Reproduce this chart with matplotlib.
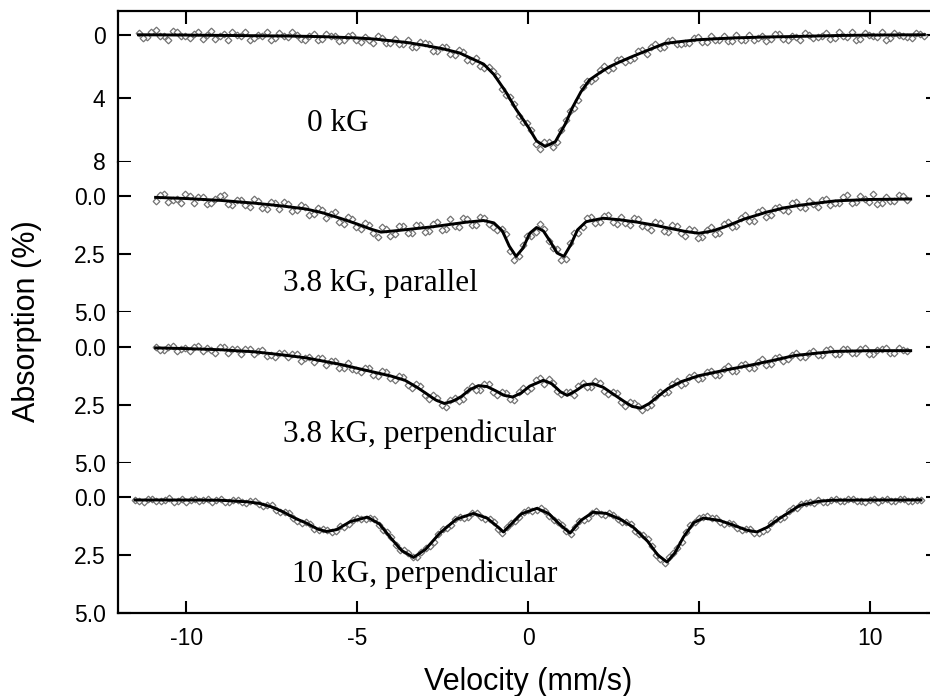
import matplotlib.pyplot as plt
import numpy as np

# velocity channels of the measured points (mm/s), two interleaved sets
vel_0kg = np.linspace(-11.4, 11.6, 93)
vel_0kg_b = np.linspace(-11.275, 11.475, 92)
vel_38par = np.linspace(-10.9, 11.1, 89)
vel_38par_b = np.linspace(-10.775, 10.975, 88)
vel_38perp = np.linspace(-10.9, 11.1, 89)
vel_38perp_b = np.linspace(-10.775, 10.975, 88)
vel_10kg = np.linspace(-11.5, 11.5, 93)
vel_10kg_b = np.linspace(-11.375, 11.375, 92)

abs_0kg = [-0.1, 0.15, -0.3, 0.1, -0.25, 0.05, 0.2, -0.15, 0.0, 0.25,
           -0.05, -0.2, 0.1, 0.3, 0.0, -0.15, 0.2, 0.05, -0.2, 0.25,
           0.1, 0.3, -0.05, 0.05, 0.35, 0.0, 0.45, 0.3, 0.1, 0.5,
           0.25, 0.6, 0.75, 0.45, 0.6, 1.0, 0.8, 1.25, 1.1, 1.65,
           1.95, 2.05, 2.6, 3.8, 4.4, 5.5, 6.0, 7.2, 6.8, 6.75,
           5.4, 4.6, 3.3, 2.95, 2.25, 2.2, 1.6, 1.75, 1.45, 0.95,
           0.75, 0.85, 0.4, 0.6, 0.55, 0.2, 0.45, 0.1, 0.35, 0.4,
           0.0, 0.3, 0.35, 0.05, 0.25, -0.05, 0.3, 0.15, -0.1, 0.2,
           0.05, 0.25, -0.15, 0.15, 0.3, -0.1, 0.1, -0.2, 0.2, 0.0,
           0.15, -0.1, 0.05]
abs_0kg_b = [0.2, -0.15, 0.05, 0.3, -0.2, 0.1, -0.05, 0.25, -0.25, 0.1,
             0.3, 0.0, -0.15, 0.2, 0.1, 0.35, -0.1, 0.15, 0.0, 0.3,
             -0.05, 0.25, 0.1, 0.4, 0.05, 0.3, 0.15, 0.5, 0.2, 0.55,
             0.6, 0.35, 0.8, 0.5, 1.0, 0.75, 1.2, 0.95, 1.6, 1.45,
             2.1, 2.3, 3.4, 3.9, 5.1, 5.6, 6.9, 6.8, 7.1, 6.0,
             4.8, 4.1, 2.9, 2.75, 2.0, 2.1, 1.5, 1.6, 1.05, 1.2,
             0.6, 0.8, 0.3, 0.6, 0.5, 0.15, 0.45, 0.35, 0.05, 0.4,
             0.3, 0.0, 0.2, 0.4, -0.05, 0.25, 0.1, 0.35, 0.0, 0.15,
             -0.1, 0.2, 0.1, -0.2, 0.25, 0.0, 0.15, 0.3, -0.1, 0.1,
             0.2, -0.05]
abs_38par = [0.2, -0.1, 0.15, 0.3, 0.0, 0.05, 0.35, 0.1, -0.05, 0.4,
             0.15, 0.45, 0.2, 0.55, 0.3, 0.25, 0.65, 0.4, 0.8, 0.5,
             0.95, 0.7, 1.2, 1.0, 1.4, 1.25, 1.75, 1.4, 1.65, 1.3,
             1.6, 1.25, 1.5, 1.1, 1.4, 1.3, 0.95, 1.25, 0.9, 1.2,
             1.45, 1.65, 2.75, 2.1, 1.7, 1.2, 1.95, 2.3, 2.7, 1.6,
             1.35, 0.9, 1.1, 0.8, 1.2, 1.15, 0.95, 1.3, 1.45, 1.15,
             1.55, 1.3, 1.7, 1.45, 1.75, 1.35, 1.6, 1.1, 1.3, 0.8,
             1.05, 0.6, 0.8, 0.45, 0.65, 0.25, 0.5, 0.35, 0.15, 0.4,
             0.3, -0.05, 0.25, 0.1, -0.1, 0.3, 0.2, -0.05, 0.15]
abs_38par_b = [-0.05, 0.25, 0.1, -0.1, 0.3, 0.05, 0.3, 0.0, 0.35, 0.15,
               0.4, 0.1, 0.5, 0.25, 0.55, 0.35, 0.6, 0.45, 0.75, 0.6,
               0.75, 1.1, 0.9, 1.35, 1.15, 1.6, 1.35, 1.7, 1.3, 1.6,
               1.25, 1.55, 1.2, 1.45, 1.0, 1.35, 1.0, 1.25, 0.95, 1.35,
               1.4, 2.35, 2.6, 1.7, 1.55, 1.4, 2.25, 2.75, 2.0, 1.6,
               0.95, 1.15, 0.85, 1.1, 0.9, 1.25, 1.0, 1.35, 1.1, 1.5,
               1.25, 1.6, 1.4, 1.8, 1.45, 1.65, 1.2, 1.35, 0.95, 1.05,
               0.7, 0.9, 0.5, 0.6, 0.3, 0.45, 0.2, 0.45, 0.1, 0.3,
               0.05, 0.3, 0.0, 0.25, 0.35, 0.05, 0.2, 0.0]
abs_38perp = [0.0, 0.15, -0.05, 0.1, 0.2, -0.05, 0.05, 0.25, 0.0, 0.1,
              0.3, 0.1, 0.2, 0.4, 0.45, 0.25, 0.3, 0.6, 0.45, 0.5,
              0.8, 0.6, 0.9, 0.95, 1.1, 0.9, 1.25, 1.1, 1.45, 1.3,
              1.8, 1.7, 2.25, 2.2, 2.6, 2.2, 2.25, 1.7, 1.85, 1.6,
              2.1, 2.0, 2.3, 1.8, 1.8, 1.35, 1.4, 1.9, 1.95, 2.1,
              1.55, 1.75, 1.55, 2.05, 2.0, 2.55, 2.45, 2.75, 2.5, 1.95,
              1.95, 1.5, 1.55, 1.2, 1.35, 1.05, 1.2, 0.85, 1.05, 0.75,
              0.9, 0.55, 0.75, 0.45, 0.55, 0.25, 0.45, 0.2, 0.35, 0.1,
              0.3, 0.1, 0.25, 0.05, 0.3, 0.1, 0.25, 0.05, 0.2]
abs_38perp_b = [0.15, 0.0, 0.2, 0.05, 0.0, 0.2, 0.15, 0.0, 0.25, 0.1,
                0.1, 0.3, 0.15, 0.35, 0.25, 0.45, 0.3, 0.5, 0.65, 0.5,
                0.6, 0.9, 0.7, 1.0, 0.9, 1.2, 1.05, 1.35, 1.25, 1.65,
                1.6, 2.1, 2.1, 2.5, 2.3, 2.35, 1.85, 1.85, 1.6, 1.95,
                1.95, 2.25, 1.95, 1.9, 1.45, 1.6, 1.55, 2.05, 1.95, 1.7,
                1.75, 1.5, 1.9, 1.95, 2.4, 2.4, 2.55, 2.6, 2.15, 2.0,
                1.6, 1.65, 1.3, 1.4, 1.1, 1.2, 0.95, 1.05, 0.8, 0.9,
                0.65, 0.8, 0.5, 0.6, 0.35, 0.45, 0.25, 0.35, 0.15, 0.3,
                0.1, 0.25, 0.1, 0.3, 0.15, 0.05, 0.25, 0.15]
abs_10kg = [0.1, 0.2, 0.08, 0.18, 0.05, 0.15, 0.2, 0.06, 0.14, 0.22,
            0.08, 0.2, 0.1, 0.25, 0.18, 0.38, 0.35, 0.65, 0.7, 1.02,
            1.05, 1.38, 1.36, 1.52, 1.25, 1.16, 0.9, 0.95, 0.96, 1.4,
            1.72, 2.3, 2.4, 2.6, 2.18, 1.92, 1.38, 1.22, 0.84, 0.85,
            0.68, 0.95, 1.08, 1.55, 1.1, 0.86, 0.55, 0.56, 0.58, 0.98,
            1.2, 1.6, 1.02, 0.88, 0.6, 0.75, 0.77, 1.06, 1.15, 1.6,
            1.82, 2.48, 2.82, 2.42, 1.95, 1.22, 0.9, 0.8, 0.9, 1.15,
            1.14, 1.4, 1.38, 1.55, 1.36, 0.96, 0.86, 0.48, 0.3, 0.2,
            0.1, 0.2, 0.08, 0.18, 0.06, 0.16, 0.1, 0.2, 0.07, 0.15,
            0.09, 0.18, 0.1]
abs_10kg_b = [0.16, 0.06, 0.15, 0.1, 0.2, 0.08, 0.14, 0.18, 0.07, 0.12,
              0.2, 0.1, 0.22, 0.15, 0.3, 0.32, 0.55, 0.62, 0.9, 1.1,
              1.15, 1.42, 1.4, 1.46, 1.28, 0.98, 0.96, 0.88, 1.2, 1.5,
              2.05, 2.28, 2.56, 2.35, 2.1, 1.58, 1.35, 0.95, 0.88, 0.66,
              0.86, 0.95, 1.36, 1.3, 1.04, 0.65, 0.6, 0.45, 0.82, 1.05,
              1.46, 1.3, 0.98, 0.68, 0.72, 0.7, 0.96, 1.05, 1.44, 1.65,
              2.1, 2.66, 2.58, 2.2, 1.5, 1.05, 0.85, 0.88, 1.08, 1.1,
              1.32, 1.36, 1.55, 1.45, 1.12, 0.95, 0.6, 0.48, 0.26, 0.26,
              0.2, 0.1, 0.17, 0.08, 0.15, 0.19, 0.07, 0.14, 0.18, 0.08,
              0.16, 0.11]

# fitted curves (nodes)
fit_v_0kg = [-11.4, -10, -9, -8, -7, -6, -5, -4.5, -4, -3.5,
             -3, -2.5, -2, -1.6, -1.3, -1.0, -0.65, -0.35, 0, 0.25,
             0.5, 0.8, 1.1, 1.3, 1.55, 1.8, 2.1, 2.4, 2.7, 3.0,
             3.5, 4.0, 4.5, 5, 6, 7, 8, 9, 10, 11.6]
fit_a_0kg = [0.0, 0.02, 0.04, 0.06, 0.08, 0.12, 0.2, 0.27, 0.38, 0.5,
             0.68, 0.88, 1.15, 1.55, 1.85, 2.5, 3.6, 4.7, 5.8, 6.7,
             7.05, 6.75, 5.6, 4.6, 3.6, 2.85, 2.4, 2.0, 1.7, 1.42,
             0.98, 0.55, 0.42, 0.31, 0.2, 0.14, 0.1, 0.05, 0.02, 0.0]
fit_v_38par = [-10.9, -10, -9, -8, -7.2, -6.5, -6, -5.5, -5, -4.6,
               -4.3, -3.8, -3.3, -2.8, -2.3, -1.8, -1.3, -1.0, -0.75, -0.55,
               -0.35, -0.15, 0.05, 0.25, 0.45, 0.65, 0.85, 1.05, 1.25, 1.45,
               1.7, 2.2, 2.7, 3.2, 3.7, 4.2, 4.6, 5.0, 5.4, 5.8,
               6.3, 7.0, 7.5, 8, 9, 10, 11.2]
fit_a_38par = [0.05, 0.1, 0.18, 0.3, 0.42, 0.55, 0.72, 0.95, 1.2, 1.42,
               1.55, 1.48, 1.4, 1.32, 1.22, 1.12, 1.05, 1.15, 1.5, 2.15,
               2.6, 2.25, 1.6, 1.35, 1.5, 1.95, 2.45, 2.6, 2.1, 1.45,
               1.1, 0.95, 1.02, 1.12, 1.25, 1.4, 1.52, 1.6, 1.5, 1.3,
               1.0, 0.68, 0.5, 0.38, 0.2, 0.14, 0.12]
fit_v_38perp = [-10.9, -10, -9, -8, -7.2, -6.5, -6, -5.5, -5, -4.5,
                -4, -3.6, -3.25, -2.95, -2.7, -2.45, -2.2, -1.95, -1.7, -1.45,
                -1.2, -0.95, -0.7, -0.45, -0.2, 0.05, 0.45, 0.7, 0.95, 1.15,
                1.4, 1.65, 1.9, 2.2, 2.5, 2.8, 3.05, 3.3, 3.55, 3.8,
                4.1, 4.5, 5.0, 5.8, 6.5, 7.2, 7.8, 8.5, 9, 10, 11.2]
fit_a_38perp = [0.05, 0.08, 0.13, 0.22, 0.35, 0.48, 0.62, 0.76, 0.93, 1.1,
                1.27, 1.45, 1.75, 2.05, 2.3, 2.45, 2.35, 2.15, 1.85, 1.68,
                1.72, 1.9, 2.1, 2.17, 2.0, 1.7, 1.45, 1.6, 1.95, 2.1,
                1.9, 1.65, 1.6, 1.75, 2.05, 2.35, 2.58, 2.65, 2.45, 2.15,
                1.8, 1.5, 1.25, 1.0, 0.8, 0.58, 0.38, 0.27, 0.2, 0.17, 0.17]
fit_v_10kg = [-11.5, -10, -9, -8.2, -7.85, -7.5, -7.17, -6.8, -6.47, -6.15,
              -5.9, -5.6, -5.2, -4.7, -4.35, -4.04, -3.7, -3.35, -3.0, -2.58,
              -2.1, -1.6, -1.2, -0.95, -0.72, -0.45, -0.2, 0.26, 0.6, 0.95,
              1.23, 1.55, 1.9, 2.3, 2.7, 3.07, 3.5, 3.8, 4.07, 4.3,
              4.55, 4.85, 5.13, 5.6, 6.0, 6.4, 6.7, 7.0, 7.38, 7.96,
              8.5, 8.9, 10, 11.5]
fit_a_10kg = [0.12, 0.12, 0.13, 0.2, 0.27, 0.42, 0.63, 0.92, 1.13, 1.38,
              1.48, 1.4, 1.05, 0.86, 1.15, 1.72, 2.3, 2.6, 2.25, 1.55,
              0.95, 0.7, 0.9, 1.2, 1.5, 1.1, 0.72, 0.48, 0.7, 1.2,
              1.55, 1.0, 0.65, 0.7, 0.95, 1.28, 1.9, 2.5, 2.8, 2.4,
              1.72, 1.1, 0.9, 1.0, 1.2, 1.42, 1.5, 1.3, 0.9, 0.35,
              0.18, 0.13, 0.12, 0.12]

labels = ["0 kG", "3.8 kG, parallel", "3.8 kG, perpendicular", "10 kG, perpendicular"]
label_pos = [(-6.47, 6.1), (-7.17, 4.1), (-7.17, 4.1), (-6.91, 3.66)]

panels = [
    ([vel_0kg, vel_0kg_b], [abs_0kg, abs_0kg_b], fit_v_0kg, fit_a_0kg,
     (8, -1.5), [0, 4, 8], ["0", "4", "8"]),
    ([vel_38par, vel_38par_b], [abs_38par, abs_38par_b], fit_v_38par, fit_a_38par,
     (5, -1.5), [0, 2.5, 5], ["0.0", "2.5", "5.0"]),
    ([vel_38perp, vel_38perp_b], [abs_38perp, abs_38perp_b], fit_v_38perp, fit_a_38perp,
     (5, -1.5), [0, 2.5, 5], ["0.0", "2.5", "5.0"]),
    ([vel_10kg, vel_10kg_b], [abs_10kg, abs_10kg_b], fit_v_10kg, fit_a_10kg,
     (5, -1.5), [0, 2.5, 5], ["0.0", "2.5", "5.0"]),
]

plt.rcParams["font.family"] = ["Liberation Sans", "DejaVu Sans"]
plt.rcParams["axes.unicode_minus"] = False
fig = plt.figure(figsize=(9.3, 6.96), dpi=100)

W, H = 930, 696
panel_px = 150.5
for i, (vxs, vas, fx, fa, ylim, yt, ytl) in enumerate(panels):
    bottom = 1 - (11 + (i + 1) * panel_px) / H
    ax = fig.add_axes([118 / W, bottom, 820 / W, panel_px / H])
    for vx, va in zip(vxs, vas):
        ax.plot(vx, va, "D", ms=3.4, mfc="white", mec="0.45", mew=0.9, zorder=2)
    ax.plot(fx, fa, "-", color="black", lw=2.1, zorder=3)
    ax.set_xlim(-12, 12)
    ax.set_ylim(*ylim)
    ax.set_yticks(yt)
    ax.set_yticklabels(ytl)
    ax.set_xticks([-10, -5, 0, 5, 10])
    ax.tick_params(axis="y", direction="in", left=True, right=True, length=9, width=1.5,
                   labelsize=16.5, pad=9)
    ax.tick_params(axis="x", direction="in", top=(i == 0), bottom=(i == 3),
                   labelbottom=(i == 3), length=9, width=1.5, labelsize=16.5, pad=10)
    for side in ["top", "bottom", "left", "right"]:
        ax.spines[side].set_linewidth(1.6)
    ax.spines["top"].set_visible(i == 0)
    ax.spines["bottom"].set_visible(i == 3)
    ax.spines["right"].set_visible(False)
    lx, ly = label_pos[i]
    ax.text(lx, ly, labels[i], family=["Liberation Serif", "DejaVu Serif"],
            fontsize=22.5, ha="left", va="baseline")

fig.text(528 / W, 1 - 690 / H, "Velocity (mm/s)", fontsize=22, ha="center", va="baseline")
fig.text(27 / W, 1 - 321 / H, "Absorption (%)", fontsize=22, rotation=90,
         ha="center", va="center")

fig.savefig("out.png", dpi=100)
